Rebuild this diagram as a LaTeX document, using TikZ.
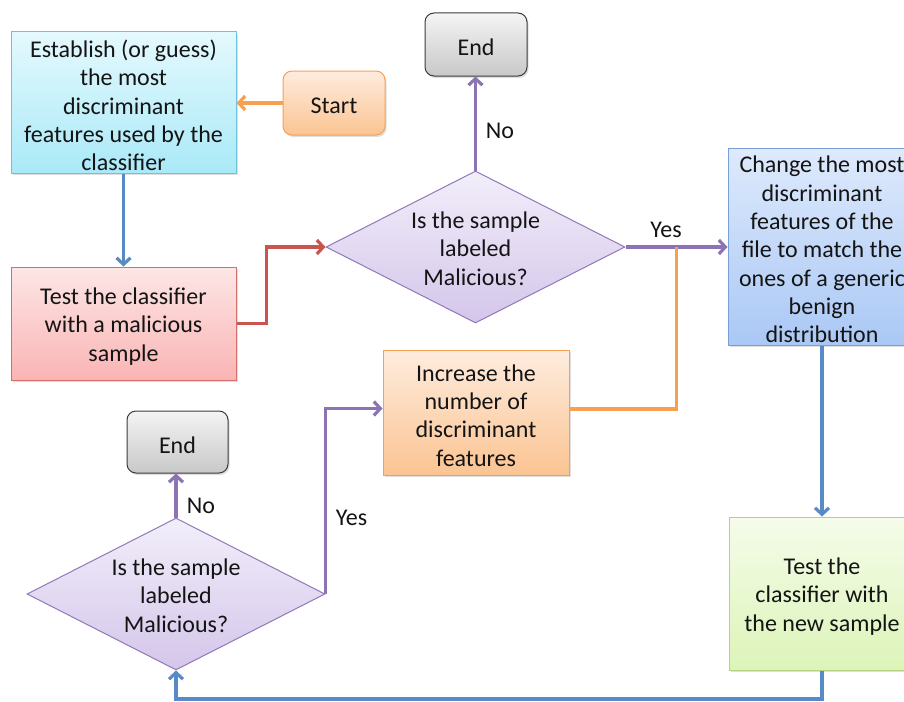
\documentclass[tikz,border=0pt]{standalone}
\usepackage{fontspec}
\setmainfont{Carlito}
\usetikzlibrary{arrows.meta,shapes.geometric,shadows}

% fills and outlines
\definecolor{aquaTop}{RGB}{228,249,253}
\definecolor{aquaBot}{RGB}{170,233,248}
\definecolor{aquaLine}{RGB}{110,195,220}
\definecolor{orTop}{RGB}{254,236,222}
\definecolor{orBot}{RGB}{251,196,146}
\definecolor{orLine}{RGB}{247,160,85}
\definecolor{grTop}{RGB}{244,244,244}
\definecolor{grBot}{RGB}{200,200,200}
\definecolor{grLine}{RGB}{60,60,60}
\definecolor{puTop}{RGB}{242,238,250}
\definecolor{puBot}{RGB}{212,198,234}
\definecolor{puLine}{RGB}{145,120,185}
\definecolor{rdTop}{RGB}{253,230,230}
\definecolor{rdBot}{RGB}{250,180,180}
\definecolor{rdLine}{RGB}{215,110,105}
\definecolor{blTop}{RGB}{222,234,252}
\definecolor{blBot}{RGB}{170,200,245}
\definecolor{blLine}{RGB}{120,160,215}
\definecolor{gnTop}{RGB}{245,252,234}
\definecolor{gnBot}{RGB}{220,244,184}
\definecolor{gnLine}{RGB}{180,210,130}
% connector colours
\definecolor{cBlue}{RGB}{88,138,198}
\definecolor{cRed}{RGB}{200,85,80}
\definecolor{cOrange}{RGB}{247,160,80}
\definecolor{cPurple}{RGB}{140,115,180}
\definecolor{txt}{RGB}{20,20,20}

\begin{document}
\begin{tikzpicture}[x=1pt,y=-1pt,
  font=\fontsize{24}{28.3}\selectfont, text=txt,
  every node/.style={inner sep=0pt},
  inside/.style={align=center, yshift=-3pt},
  flowbox/.style={draw, line width=1pt,
    drop shadow={opacity=0.25, shadow xshift=1.5pt, shadow yshift=-2pt}},
  aquabox/.style={flowbox, draw=aquaLine, top color=aquaTop, bottom color=aquaBot},
  orangebox/.style={flowbox, draw=orLine, top color=orTop, bottom color=orBot},
  graybox/.style={flowbox, draw=grLine, top color=grTop, bottom color=grBot, rounded corners=9pt},
  redbox/.style={flowbox, draw=rdLine, top color=rdTop, bottom color=rdBot},
  bluebox/.style={flowbox, draw=blLine, top color=blTop, bottom color=blBot},
  greenbox/.style={flowbox, draw=gnLine, top color=gnTop, bottom color=gnBot},
  decision/.style={shape=diamond, draw=puLine, line width=1pt, top color=puTop, bottom color=puBot},
  conn/.style={line width=3.2pt, -{Straight Barb[length=6.5pt,width=14pt]}},
  plainline/.style={line width=3.2pt}
]
\clip (0,0) rectangle (904,701);
\fill[white] (0,0) rectangle (904,701);

% boxes
\node[aquabox, minimum width=225pt, minimum height=141pt,
  label={[inside]center:{Establish (or guess)\\the most\\discriminant\\features used by the\\classifier}}]
  (est) at (123.5,102.5) {};
\node[orangebox, rounded corners=9pt, minimum width=102pt, minimum height=64pt,
  label={[inside]center:Start}] (start) at (334,103) {};
\node[graybox, minimum width=102pt, minimum height=63pt,
  label={[inside]center:End}] (end1) at (476,44.5) {};
\node[decision, minimum width=299pt, minimum height=152pt,
  label={[inside, yshift=1.5pt]center:{Is the sample\\labeled\\Malicious?}}] (d1) at (475.5,247) {};
\node[redbox, minimum width=225pt, minimum height=113pt,
  label={[inside]center:{Test the classifier\\with a malicious\\sample}}] (test) at (123.5,323.5) {};
\node[orangebox, minimum width=186pt, minimum height=125pt,
  label={[inside]center:{Increase the\\number of\\discriminant\\features}}] (inc) at (476,412.5) {};
\node[bluebox, minimum width=188pt, minimum height=197pt,
  label={[inside]center:{Change the most\\discriminant\\features of the\\file to match the\\ones of a generic\\benign\\distribution}}]
  (chg) at (822,246.5) {};
\node[greenbox, minimum width=186pt, minimum height=153pt,
  label={[inside]center:{Test the\\classifier with\\the new sample}}] (grn) at (822,593.5) {};
\node[graybox, minimum width=101pt, minimum height=62pt,
  label={[inside]center:End}] (end2) at (177.5,442) {};
\node[decision, minimum width=298pt, minimum height=152pt,
  label={[inside, yshift=1.5pt]center:{Is the sample\\labeled\\Malicious?}}] (d2) at (176,594) {};

% connectors
\draw[conn, cOrange] (start.west) -- (start.west -| est.east);
\draw[conn, cBlue] (est.south) -- (test.north);
\draw[conn, cRed] (test.east) -- ++(30,0) |- (d1.west);
\draw[conn, cPurple] (d1.north) -- (d1.north |- end1.south);
\node (no1) at (500,131) {No};
\draw[conn, cPurple] (d1.east) -- (d1.east -| chg.west);
\node (yes1) at (666,230) {Yes};
\coordinate (j) at (676.5,247);
\draw[plainline, cOrange] ([yshift=3.5pt]inc.east) -| (j);
\draw[conn, cBlue] (chg.south) -- (grn.north);
\draw[conn, cBlue] (grn.south) -- ++(0,28.5) -| (d2.south);
\draw[conn, cPurple] (d2.north) -- (d2.north |- end2.south);
\node (no2) at (201,506) {No};
\draw[conn, cPurple] (d2.east) |- ([yshift=4pt]inc.west);
\node (yes2) at (351.5,518) {Yes};
\end{tikzpicture}
\end{document}
